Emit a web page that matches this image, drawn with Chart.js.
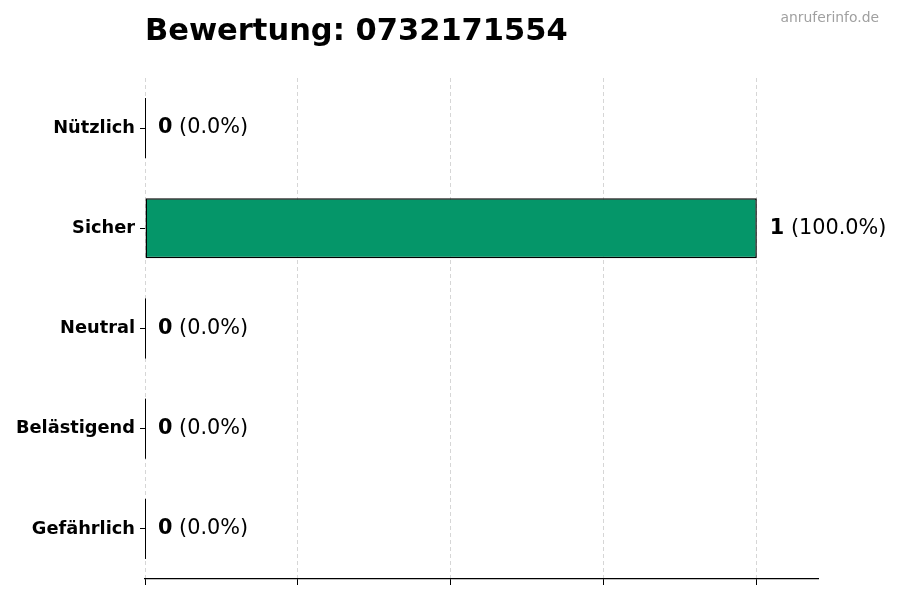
<!DOCTYPE html>
<html>
<head>
<meta charset="utf-8">
<script src="https://cdn.jsdelivr.net/npm/chart.js@4"></script>
<style>
  html, body { margin: 0; padding: 0; background: #fff; }
  #wrap { width: 900px; height: 600px; }
</style>
</head>
<body>
<div id="wrap"><canvas id="bewertungChart" width="900" height="600"></canvas></div>
<script>
// Daten aus der Vorlage
const kategorien = ['Nützlich', 'Sicher', 'Neutral', 'Belästigend', 'Gefährlich'];
const anzahl = [0, 1, 0, 0, 0];
const xTicks = [0, 0.25, 0.5, 0.75, 1.0];
const titel = 'Bewertung: 0732171554';
const quelle = 'anruferinfo.de';

const summe = anzahl.reduce((a, b) => a + b, 0);
const prozent = anzahl.map(v => summe ? v / summe * 100 : 0);

const FONT = "'DejaVu Sans', sans-serif";

// Titel, Quelle, Werte-Beschriftung
const beschriftung = {
    id: 'beschriftung',
    afterDraw(chart) {
        const ctx = chart.ctx;
        ctx.save();
        ctx.fillStyle = '#000';
        ctx.font = 'bold 30.5px ' + FONT;
        ctx.textAlign = 'left';
        ctx.textBaseline = 'alphabetic';
        ctx.fillText(titel, chart.chartArea.left, 40);

        ctx.fillStyle = '#a0a0a0';
        ctx.font = '13.9px ' + FONT;
        ctx.textAlign = 'right';
        ctx.fillText(quelle, 879, 22);

        const meta = chart.getDatasetMeta(0);
        meta.data.forEach((bar, i) => {
            const v = anzahl[i];
            if (v === 0) {
                ctx.strokeStyle = '#000';
                ctx.lineWidth = 1;
                ctx.beginPath();
                ctx.moveTo(bar.base + 0.5, bar.y - bar.height / 2);
                ctx.lineTo(bar.base + 0.5, bar.y + bar.height / 2);
                ctx.stroke();
            }
            let x = bar.x + 13;
            ctx.fillStyle = '#000';
            ctx.textAlign = 'left';
            ctx.textBaseline = 'middle';
            ctx.font = 'bold 20.8px ' + FONT;
            const wert = String(v);
            ctx.fillText(wert, x, bar.y);
            x += ctx.measureText(wert).width;
            ctx.font = '20.8px ' + FONT;
            ctx.fillText(' (' + prozent[i].toFixed(1) + '%)', x, bar.y);
        });
        ctx.restore();
    }
};

const canvas = document.getElementById('bewertungChart');
new Chart(canvas.getContext('2d'), {
    type: 'bar',
    data: {
        labels: kategorien,
        datasets: [{
            data: anzahl,
            backgroundColor: '#059669',
            borderColor: '#000',
            borderWidth: 1.5,
            borderSkipped: false,
            categoryPercentage: 0.6,
            barPercentage: 1.0
        }]
    },
    options: {
        indexAxis: 'y',
        responsive: false,
        animation: false,
        layout: { padding: { top: 78, right: 82, left: 0, bottom: 0 } },
        plugins: {
            legend: { display: false },
            tooltip: { enabled: false },
            title: { display: false }
        },
        scales: {
            x: {
                type: 'linear',
                min: 0,
                max: 1.1,
                afterBuildTicks(scale) {
                    scale.ticks = xTicks.map(v => ({ value: v }));
                },
                afterFit(scale) { scale.height = 21; },
                ticks: { display: false },
                grid: {
                    color: 'rgba(0,0,0,0.16)',
                    lineWidth: 1,
                    drawTicks: true,
                    tickLength: 6,
                    tickColor: '#000',
                    tickBorderDash: [0, 0],
                    tickWidth: 1
                },
                border: { display: true, color: '#000', width: 1.2, dash: [4, 3] }
            },
            y: {
                afterFit(scale) { scale.width = 145; },
                ticks: {
                    color: '#000',
                    font: { family: FONT, size: 17.8, weight: 'bold' },
                    padding: 5
                },
                grid: {
                    offset: false,
                    drawOnChartArea: false,
                    drawTicks: true,
                    tickLength: 5,
                    tickColor: '#000'
                },
                border: { display: false }
            }
        }
    },
    plugins: [beschriftung]
});
</script>
</body>
</html>
